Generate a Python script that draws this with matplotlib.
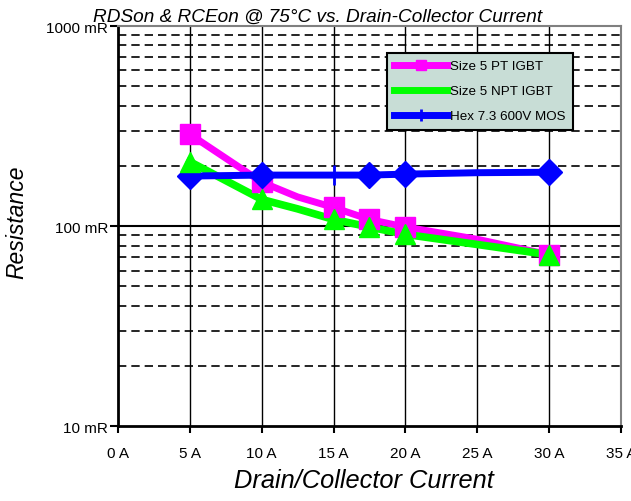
import matplotlib.pyplot as plt
from matplotlib.lines import Line2D
from matplotlib.ticker import FixedLocator, NullFormatter

plt.rcParams['font.family'] = ['Liberation Sans', 'DejaVu Sans']

# measured on-resistance (mR) vs current (A)
current = [5, 10, 12.5, 15, 17.5, 20, 25, 30]
pt_igbt = [288, 166, 140, 124, 108, 99, 86, 72]
npt_igbt = [210, 136, 122, 108, 99, 91, 81, 72]
mos_current = [5, 10, 15, 17.5, 20, 25, 30]
mos = [178, 180, 180, 180, 182, 185, 186]

marker_current = [5, 10, 15, 17.5, 20, 30]
pt_marks = [288, 166, 124, 108, 99, 72]
npt_marks = [210, 136, 108, 99, 91, 72]
mos_marker_current = [5, 10, 17.5, 20, 30]
mos_marks = [178, 180, 180, 182, 186]

x_ticks = [0, 5, 10, 15, 20, 25, 30, 35]
y_ticks = [10, 100, 1000]

fig = plt.figure(figsize=(6.31, 5.02), dpi=100)
ax = fig.add_axes([0.187, 0.149, 0.797, 0.797])
ax.set_yscale('log')
ax.set_xlim(0, 35)
ax.set_ylim(10, 1000)

# grid: solid decades and verticals, dashed minor
for d in (10, 100):
    for m in range(2, 10):
        ax.axhline(d * m, color='black', lw=1.2, ls=(0, (5, 3)), zorder=1)
ax.axhline(100, color='black', lw=1.5, zorder=1)
for x in x_ticks[1:-1]:
    ax.axvline(x, color='black', lw=1, zorder=1)

ax.plot(current, pt_igbt, color='#ff00ff', lw=5, zorder=3)
ax.plot(marker_current, pt_marks, 's', color='#ff00ff', ms=14, zorder=4)
ax.plot(current, npt_igbt, color='#00ff00', lw=5.5, zorder=3)
ax.plot(marker_current, npt_marks, '^', color='#00ff00', ms=15, zorder=5)
ax.plot(mos_current, mos, color='#0000ff', lw=5, zorder=3)
ax.plot(mos_marker_current, mos_marks, 'D', color='#0000ff', ms=13, zorder=4)
ax.plot([15], [180], '|', color='#0000ff', ms=14, mew=2, zorder=4)

ax.xaxis.set_major_locator(FixedLocator(x_ticks))
ax.set_xticklabels([f'{x} A' for x in x_ticks])
ax.yaxis.set_major_locator(FixedLocator(y_ticks))
ax.yaxis.set_minor_formatter(NullFormatter())
ax.yaxis.set_minor_locator(FixedLocator([]))
ax.set_yticklabels([f'{y} mR' for y in y_ticks])
ax.tick_params(axis='x', direction='out', length=5, width=1.5, pad=9, labelsize=11)
ax.tick_params(axis='y', direction='out', length=6, width=1.5, pad=1, labelsize=11)

for s in ('left', 'bottom'):
    ax.spines[s].set_linewidth(2)
for s in ('top', 'right'):
    ax.spines[s].set_color('#808080')
    ax.spines[s].set_linewidth(1.5)

fig.text(0.504, 0.966, 'RDSon & RCEon @ 75°C vs. Drain-Collector Current',
         style='italic', fontsize=13.7, ha='center', va='center')
fig.text(0.027, 0.558, 'Resistance', style='italic', fontsize=16.5,
         rotation=90, ha='center', va='center')
fig.text(0.577, 0.042, 'Drain/Collector Current', style='italic',
         fontsize=18.3, ha='center', va='center')

handles = [
    Line2D([], [], color='#ff00ff', lw=5, marker='s', ms=7),
    Line2D([], [], color='#00ff00', lw=5, marker='|', ms=5, mew=1.5),
    Line2D([], [], color='#0000ff', lw=5, marker='|', ms=8, mew=2),
]
leg = ax.legend(handles, ['Size 5 PT IGBT', 'Size 5 NPT IGBT', 'Hex 7.3 600V MOS'],
                loc='upper left', bbox_to_anchor=(0.534, 0.934),
                handlelength=4.0, framealpha=1, fancybox=False, borderpad=0.55,
                labelspacing=0.95, handletextpad=0.2, borderaxespad=0,
                prop={'size': 9.6})
leg.get_frame().set_facecolor('#c8ddd6')
leg.get_frame().set_edgecolor('black')
leg.get_frame().set_linewidth(1.5)
leg.set_zorder(6)

fig.savefig('out.png', dpi=100)
